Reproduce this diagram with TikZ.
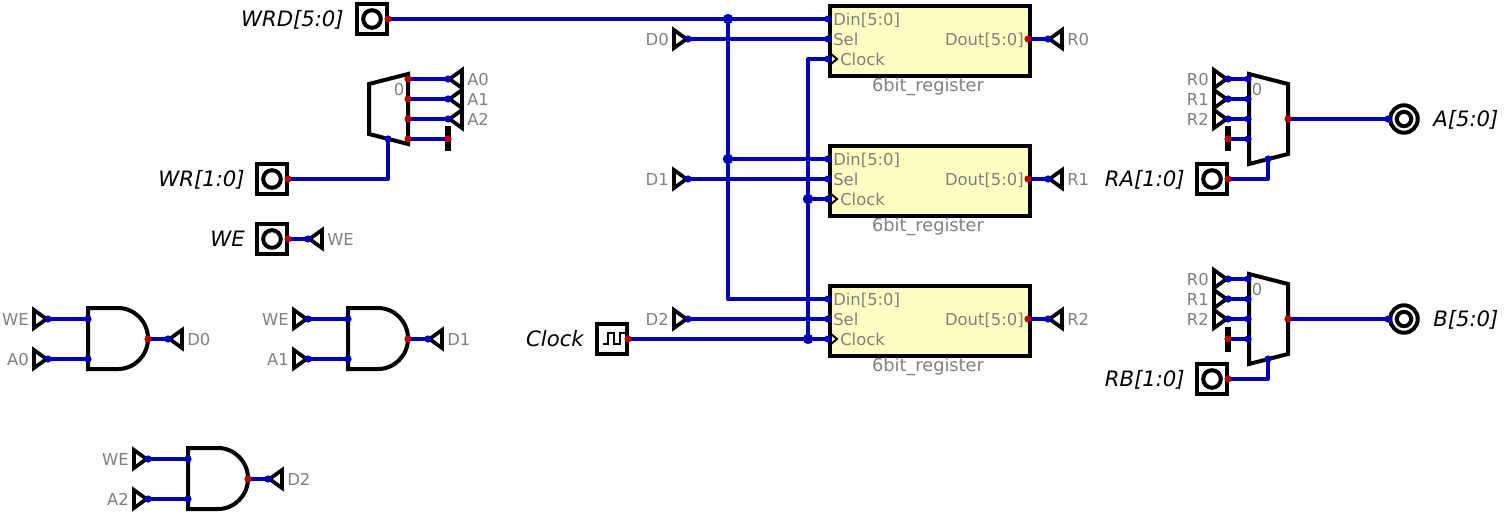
\documentclass[tikz,border=0pt]{standalone}
\usepackage{fontspec}
\setmainfont{DejaVu Sans}
\usetikzlibrary{calc}
\definecolor{wire}{HTML}{0000B4}
\definecolor{portred}{HTML}{B40000}
\definecolor{lab}{HTML}{808080}
\definecolor{regfill}{HTML}{FFFFC3}
\tikzset{
  x=0.75pt,y=-0.75pt,
  body/.style={draw=black,line width=3pt,line join=miter},
  thin body/.style={draw=black,line width=2.8pt,line join=miter,miter limit=10},
  wireline/.style={draw=wire,line width=3pt,line join=round,line cap=round},
  grayl/.style={text=lab,font=\fontsize{12.3}{14}\selectfont,inner sep=0pt,yshift=-1.8pt},
  pinl/.style={text=black,font=\fontsize{15.9}{18}\itshape\selectfont,inner sep=0pt,anchor=mid east,yshift=-3pt},
  regbox/.style={body,fill=regfill,minimum width=150pt,minimum height=52.5pt,inner sep=0pt,anchor=north west},
  pinbox/.style={body,fill=white,minimum width=22pt,minimum height=22pt,inner sep=0pt},
  bar/.style={fill=black,minimum width=4.2pt,minimum height=18.75pt,inner sep=0pt},
}
% dots
\newcommand{\bd}[1]{\fill[wire] (#1) circle[radius=2.7pt];}
\newcommand{\rd}[1]{\fill[portred] (#1) circle[radius=2.7pt];}
\newcommand{\jd}[1]{\fill[wire] (#1) circle[radius=3.9pt];}
% tunnels: name, x, y, label
\newcommand{\tunR}[4]{\coordinate (#1) at (#2,#3);
  \draw[thin body] (#2-1.5,#3) -- ++(-12.5,-9) -- ++(0,18) -- cycle;
  \node[grayl,anchor=mid east] (#1l) at (#2-19,#3) {#4};}
\newcommand{\tunL}[4]{\coordinate (#1) at (#2,#3);
  \draw[thin body] (#2+1.5,#3) -- ++(12.5,-9) -- ++(0,18) -- cycle;
  \node[grayl,anchor=mid west] (#1l) at (#2+19,#3) {#4};}
% input pin: name, cx, cy, label, label right edge
\newcommand{\inpin}[5]{\node[pinbox] (#1) at (#2,#3) {};
  \draw[body] (#2,#3) circle[radius=6.6pt];
  \coordinate (#1p) at (#2+16,#3);
  \node[pinl] (#1l) at (#5,#3) {#4};}
% register: name, top y
\newcommand{\regist}[2]{\node[regbox] (#1) at (828,#2) {};
  \coordinate (#1din) at (828,#2+15);
  \coordinate (#1sel) at (828,#2+35);
  \coordinate (#1clk) at (828,#2+55);
  \coordinate (#1out) at (1028,#2+35);
  \draw[line width=1.5pt] (831,#2+50) -- (837,#2+55) -- (831,#2+60);
  \node[grayl,anchor=mid west] (#1a) at (833,#2+15) {Din[5:0]};
  \node[grayl,anchor=mid west] (#1b) at (833,#2+35) {Sel};
  \node[grayl,anchor=mid west] (#1c) at (840,#2+55) {Clock};
  \node[grayl,anchor=mid east] (#1d) at (1024,#2+35) {Dout[5:0]};
  \node[grayl,anchor=mid,font=\fontsize{13.3}{15}\selectfont] (#1e) at (928,#2+81) {6bit\_register};}
% AND gate: name, left x, top input y
\newcommand{\andg}[3]{\draw[body] (#2,#3-11) -- (#2+30,#3-11)
     arc[start angle=-90,end angle=90,x radius=30,y radius=30.5] -- (#2,#3+50) -- cycle;
  \coordinate (#1a) at (#2,#3);
  \coordinate (#1b) at (#2,#3+40);
  \coordinate (#1o) at (#2+60,#3+20);}
\begin{document}
\begin{tikzpicture}
\useasboundingbox (0,0) rectangle (1508,513);
% ---- registers
\regist{ra}{4}
\regist{rb}{144}
\regist{rc}{284}
% ---- pins
\inpin{wrd}{372}{19}{WRD[5:0]}{344}
\inpin{wrp}{272}{179}{WR[1:0]}{245}
\inpin{wep}{272}{239}{WE}{245}
\inpin{rap}{1212}{179}{RA[1:0]}{1185}
\inpin{rbp}{1212}{379}{RB[1:0]}{1185}
\node[pinbox] (clk) at (612,339) {};
\draw[line width=1.5pt,line join=miter] (603,344) -- (608,344) -- (608,333) -- (614,333) -- (614,344) -- (620,344) -- (620,333) -- (625,333);
\coordinate (clkp) at (628,339);
\node[pinl] (clkl) at (584,339) {Clock};
% output pins
\draw[body] (1404,119) circle[radius=10.3pt];
\draw[body] (1404,119) circle[radius=5.4pt];
\coordinate (ap) at (1388,119);
\node[pinl,anchor=mid west] (apl) at (1433,119) {A[5:0]};
\draw[body] (1404,319) circle[radius=10.3pt];
\draw[body] (1404,319) circle[radius=5.4pt];
\coordinate (bp) at (1388,319);
\node[pinl,anchor=mid west] (bpl) at (1433,319) {B[5:0]};
% ---- muxes
\draw[body] (369,84) -- (408,74) -- (408,144) -- (369,134) -- cycle;
\node[grayl,anchor=mid] (m0) at (399,89) {0};
\draw[body] (1249,74) -- (1288,84) -- (1288,154) -- (1249,164) -- cycle;
\node[grayl,anchor=mid] (m1) at (1257,89) {0};
\draw[body] (1249,274) -- (1288,284) -- (1288,354) -- (1249,364) -- cycle;
\node[grayl,anchor=mid] (m2) at (1257,289) {0};
\coordinate (m0a) at (408,79); \coordinate (m0b) at (408,99); \coordinate (m0c) at (408,119); \coordinate (m0d) at (408,139); \coordinate (m0s) at (388,139);
\coordinate (m1a) at (1248,79); \coordinate (m1b) at (1248,99); \coordinate (m1c) at (1248,119); \coordinate (m1d) at (1248,139); \coordinate (m1s) at (1268,159); \coordinate (m1o) at (1288,119);
\coordinate (m2a) at (1248,279); \coordinate (m2b) at (1248,299); \coordinate (m2c) at (1248,319); \coordinate (m2d) at (1248,339); \coordinate (m2s) at (1268,359); \coordinate (m2o) at (1288,319);
\node[bar] (b0) at (448,139) {};
\node[bar] (b1) at (1228,139) {};
\node[bar] (b2) at (1228,339) {};
% ---- gates
\andg{ga}{88}{319}
\andg{gb}{348}{319}
\andg{gc}{188}{459}
% ---- tunnels
\tunL{ta0}{448}{79}{A0}\tunL{ta1}{448}{99}{A1}\tunL{ta2}{448}{119}{A2}
\tunL{twe}{308}{239}{WE}
\tunR{td0}{688}{39}{D0}\tunR{td1}{688}{179}{D1}\tunR{td2}{688}{319}{D2}
\tunL{tr0}{1048}{39}{R0}\tunL{tr1}{1048}{179}{R1}\tunL{tr2}{1048}{319}{R2}
\tunR{xr0}{1228}{79}{R0}\tunR{xr1}{1228}{99}{R1}\tunR{xr2}{1228}{119}{R2}
\tunR{yr0}{1228}{279}{R0}\tunR{yr1}{1228}{299}{R1}\tunR{yr2}{1228}{319}{R2}
\tunR{uwa}{48}{319}{WE}\tunR{uaa}{48}{359}{A0}\tunL{uoa}{168}{339}{D0}
\tunR{uwb}{308}{319}{WE}\tunR{uab}{308}{359}{A1}\tunL{uob}{428}{339}{D1}
\tunR{uwc}{148}{459}{WE}\tunR{uac}{148}{499}{A2}\tunL{uoc}{268}{479}{D2}
% ---- junction coordinates
\coordinate (j1) at (728,19); \coordinate (j2) at (728,159); \coordinate (j3) at (808,199); \coordinate (j4) at (808,339);
% ---- wires
\draw[wireline] (wrdp) -- (radin);
\draw[wireline] (j1) |- (rcdin);
\draw[wireline] (j2) -- (rbdin);
\draw[wireline] (td0) -- (rasel);
\draw[wireline] (td1) -- (rbsel);
\draw[wireline] (td2) -- (rcsel);
\draw[wireline] (clkp) -- (rcclk);
\draw[wireline] (j4) |- (raclk);
\draw[wireline] (j3) -- (rbclk);
\draw[wireline] (raout) -- (tr0);
\draw[wireline] (rbout) -- (tr1);
\draw[wireline] (rcout) -- (tr2);
\draw[wireline] (m0a) -- (ta0); \draw[wireline] (m0b) -- (ta1); \draw[wireline] (m0c) -- (ta2); \draw[wireline] (m0d) -- (b0.center);
\draw[wireline] (wrpp) -| (m0s);
\draw[wireline] (wepp) -- (twe);
\draw[wireline] (xr0) -- (m1a); \draw[wireline] (xr1) -- (m1b); \draw[wireline] (xr2) -- (m1c); \draw[wireline] (b1.center) -- (m1d);
\draw[wireline] (yr0) -- (m2a); \draw[wireline] (yr1) -- (m2b); \draw[wireline] (yr2) -- (m2c); \draw[wireline] (b2.center) -- (m2d);
\draw[wireline] (m1o) -- (ap); \draw[wireline] (m2o) -- (bp);
\draw[wireline] (rapp) -| (m1s); \draw[wireline] (rbpp) -| (m2s);
\draw[wireline] (uwa) -- (gaa); \draw[wireline] (uaa) -- (gab); \draw[wireline] (gao) -- (uoa);
\draw[wireline] (uwb) -- (gba); \draw[wireline] (uab) -- (gbb); \draw[wireline] (gbo) -- (uob);
\draw[wireline] (uwc) -- (gca); \draw[wireline] (uac) -- (gcb); \draw[wireline] (gco) -- (uoc);
% ---- dots
\foreach \p in {wrdp,wrpp,wepp,rapp,rbpp,clkp,raout,rbout,rcout,m0a,m0b,m0c,m0d,m1o,m2o,gao,gbo,gco,b0.center,b1.center,b2.center} {\rd{\p}}
\foreach \p in {radin,rasel,raclk,rbdin,rbsel,rbclk,rcdin,rcsel,rcclk,ta0,ta1,ta2,twe,td0,td1,td2,tr0,tr1,tr2,xr0,xr1,xr2,yr0,yr1,yr2,uwa,uaa,uoa,uwb,uab,uob,uwc,uac,uoc,gaa,gab,gba,gbb,gca,gcb,m0s,m1a,m1b,m1c,m1d,m1s,m2a,m2b,m2c,m2d,m2s,ap,bp} {\bd{\p}}
\foreach \p in {j1,j2,j3,j4} {\jd{\p}}
\end{tikzpicture}
\end{document}
